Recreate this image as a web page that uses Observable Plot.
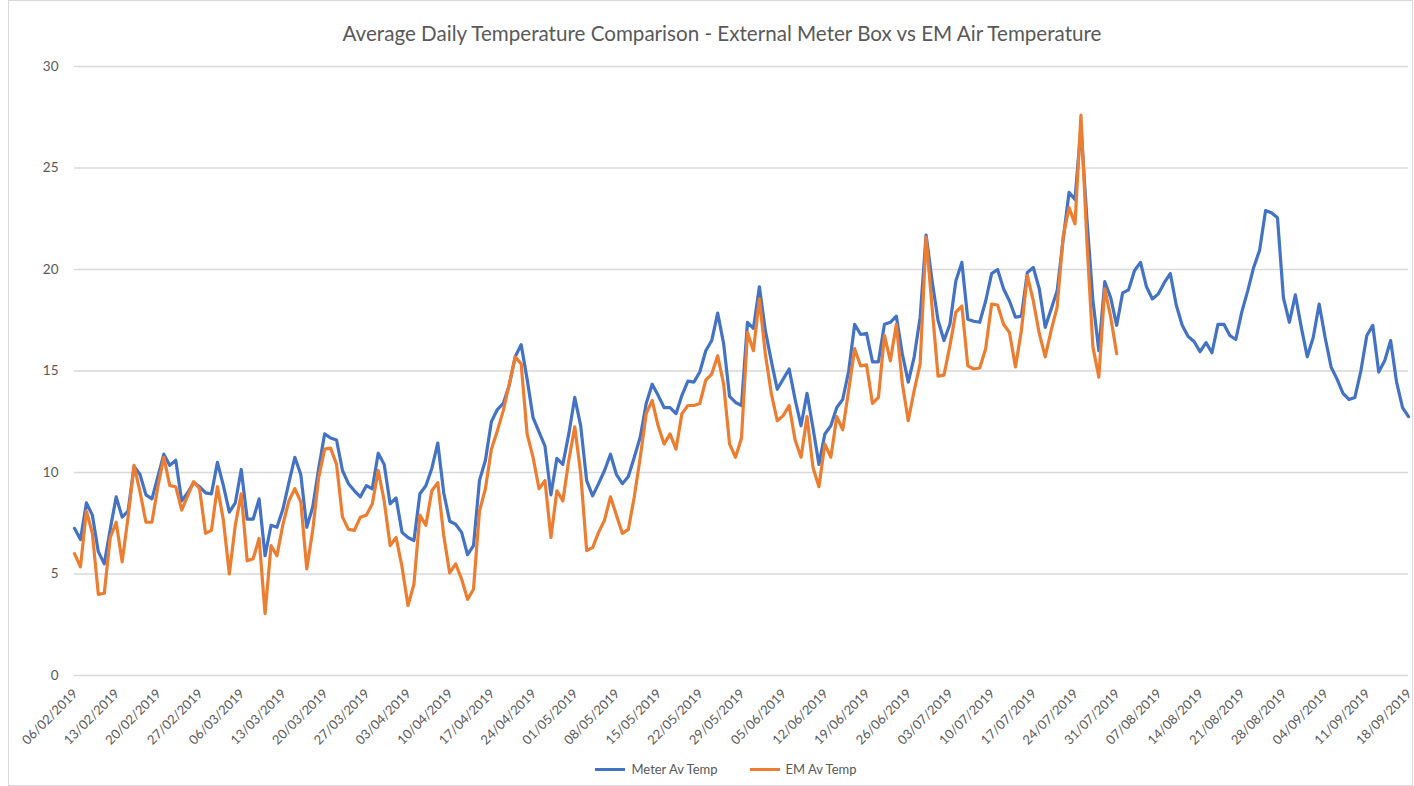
<!DOCTYPE html>
<html><head><meta charset="utf-8">
<script src="https://cdn.jsdelivr.net/npm/d3@7"></script>
<script src="https://cdn.jsdelivr.net/npm/@observablehq/plot@0.6"></script>
<style>
body{margin:0;background:#fff;}
#wrap{position:relative;width:1414px;height:786px;font-family:Lato,"Open Sans",sans-serif;color:#595959;overflow:hidden}
#frame{position:absolute;left:8px;top:0px;width:1405px;height:786px;border:1px solid #d9d9d9;box-sizing:border-box}
#title{position:absolute;top:21px;left:15px;width:1414px;text-align:center;font-size:20.6px;color:#595959;}
#chart{position:absolute;left:0;top:0}
#legend{position:absolute;top:761px;left:19px;width:1414px;display:flex;justify-content:center;align-items:center;font-size:13px;color:#595959}
.item{display:flex;align-items:center;margin:0 16px}
.sw{display:inline-block;width:30px;height:3px;margin-right:6px}
</style>
</head><body>
<div id="wrap">
  <div id="frame"></div>
  <div id="chart"></div>
  <div id="title">Average Daily Temperature Comparison - External Meter Box vs EM Air Temperature</div>
  <div id="legend"></div>
</div>
<script>
const startDate = "2019-02-06";
const seriesNames = ["Meter Av Temp", "EM Av Temp"];
const seriesColors = ["#4472C4", "#ED7D31"];
const yTicks = [0, 5, 10, 15, 20, 25, 30];
const xTickLabels = ["06/02/2019","13/02/2019","20/02/2019","27/02/2019","06/03/2019","13/03/2019","20/03/2019","27/03/2019","03/04/2019","10/04/2019","17/04/2019","24/04/2019","01/05/2019","08/05/2019","15/05/2019","22/05/2019","29/05/2019","05/06/2019","12/06/2019","19/06/2019","26/06/2019","03/07/2019","10/07/2019","17/07/2019","24/07/2019","31/07/2019","07/08/2019","14/08/2019","21/08/2019","28/08/2019","04/09/2019","11/09/2019","18/09/2019"];

const meter = [7.25,6.7,8.5,7.9,6.1,5.5,7.2,8.8,7.8,8.1,10.3,9.9,8.9,8.7,9.8,10.9,10.35,10.6,8.6,9.0,
9.5,9.3,9.0,8.95,10.5,9.35,8.05,8.5,10.15,7.7,7.7,8.7,5.9,7.4,7.3,8.2,9.5,10.75,9.9,7.3,
8.3,10.2,11.9,11.7,11.6,10.1,9.45,9.1,8.8,9.35,9.2,10.95,10.4,8.45,8.75,7.05,6.8,6.65,8.95,9.35,
10.2,11.45,9.0,7.6,7.45,7.05,5.95,6.4,9.6,10.6,12.5,13.1,13.4,14.3,15.7,16.3,14.6,12.7,12.0,11.3,
8.9,10.7,10.4,11.9,13.7,12.3,9.6,8.85,9.45,10.1,10.9,9.9,9.45,9.8,10.75,11.75,13.4,14.35,13.8,13.2,
13.2,12.9,13.8,14.5,14.45,14.95,16.0,16.5,17.85,16.35,13.75,13.45,13.3,17.4,17.1,19.15,17.0,15.5,14.1,14.6,
15.1,13.6,12.3,13.9,12.2,10.4,11.9,12.3,13.2,13.6,15.0,17.3,16.8,16.85,15.45,15.45,17.3,17.4,17.7,15.85,
14.45,15.7,17.65,21.7,19.45,17.5,16.5,17.3,19.45,20.35,17.55,17.45,17.4,18.45,19.8,20.0,19.05,18.45,17.65,17.7,
19.85,20.1,19.05,17.15,18.05,18.95,21.45,23.8,23.45,27.0,22.5,18.5,16.0,19.4,18.6,17.25,18.85,19.0,19.95,20.35,
19.15,18.55,18.8,19.35,19.8,18.25,17.25,16.7,16.45,15.95,16.4,15.9,17.3,17.3,16.75,16.55,17.9,18.95,20.1,20.95,
22.9,22.8,22.55,18.6,17.4,18.75,17.15,15.7,16.65,18.3,16.65,15.2,14.6,13.9,13.6,13.7,15.0,16.75,17.25,14.95,
15.5,16.5,14.45,13.2,12.75];

const em = [6.0,5.35,8.1,7.0,4.0,4.05,6.8,7.55,5.6,7.8,10.35,9.05,7.55,7.55,9.3,10.75,9.35,9.3,8.15,8.85,
9.55,9.2,7.0,7.15,9.3,7.65,5.0,7.4,8.95,5.65,5.75,6.75,3.05,6.4,5.9,7.45,8.6,9.2,8.55,5.25,
7.15,9.75,11.15,11.2,10.4,7.8,7.2,7.15,7.8,7.9,8.45,10.1,8.6,6.4,6.8,5.35,3.45,4.5,7.9,7.4,
9.1,9.5,6.9,5.05,5.5,4.75,3.75,4.25,8.1,9.2,11.15,12.05,13.05,14.35,15.7,15.35,11.9,10.75,9.2,9.6,
6.8,9.1,8.6,10.6,12.25,9.95,6.15,6.3,7.05,7.65,8.8,7.9,7.0,7.2,8.8,10.75,12.9,13.55,12.3,11.4,
11.9,11.15,12.9,13.3,13.3,13.4,14.55,14.85,15.75,14.35,11.4,10.75,11.7,16.9,16.0,18.55,15.85,13.9,12.55,12.8,
13.3,11.6,10.75,12.75,10.25,9.3,11.4,10.75,12.75,12.1,14.05,16.1,15.25,15.3,13.4,13.7,16.75,15.5,17.3,14.4,
12.55,14.05,15.35,21.6,18.15,14.75,14.8,16.25,17.9,18.2,15.25,15.1,15.15,16.1,18.3,18.25,17.3,16.9,15.2,17.0,
19.7,18.45,16.85,15.7,17.0,18.15,21.6,23.05,22.25,27.6,21.4,16.2,14.7,19.05,17.65,15.85];

const parseDay = d3.utcParse("%Y-%m-%d");
const parseLabel = d3.utcParse("%d/%m/%Y");
const start = parseDay(startDate);
const meterRows = meter.map((v, i) => ({date: d3.utcDay.offset(start, i), value: v}));
const emRows = em.map((v, i) => ({date: d3.utcDay.offset(start, i), value: v}));
const tickDates = xTickLabels.map(parseLabel);
const fmt = d3.utcFormat("%d/%m/%Y");

const chart = Plot.plot({
  width: 1414,
  height: 760,
  marginLeft: 74,
  marginRight: 6,
  marginTop: 66,
  marginBottom: 85,
  style: {fontFamily: "Lato, 'Open Sans', sans-serif", fontSize: "13px", color: "#595959", background: "transparent"},
  x: {type: "utc", domain: [start, d3.utcDay.offset(start, meter.length - 1)]},
  y: {domain: [0, 30]},
  marks: [
    Plot.gridY(yTicks, {stroke: "#d9d9d9", strokeOpacity: 1, strokeWidth: 1.3}),
    Plot.axisY(yTicks, {tickSize: 0, tickPadding: 16, label: null, fontSize: 13.5}),
    Plot.axisX(tickDates, {tickSize: 0, tickPadding: 16, dx: 1, tickRotate: -45, tickFormat: fmt, label: null, fontSize: 13}),
    Plot.line(meterRows, {x: "date", y: "value", stroke: seriesColors[0], strokeWidth: 3.2, curve: "linear"}),
    Plot.line(emRows, {x: "date", y: "value", stroke: seriesColors[1], strokeWidth: 3.2, curve: "linear"})
  ]
});
document.getElementById("chart").appendChild(chart);

const legend = document.getElementById("legend");
seriesNames.forEach((name, i) => {
  const it = document.createElement("div");
  it.className = "item";
  const sw = document.createElement("span");
  sw.className = "sw";
  sw.style.background = seriesColors[i];
  it.appendChild(sw);
  it.appendChild(document.createTextNode(name));
  legend.appendChild(it);
});
</script>
</body></html>
